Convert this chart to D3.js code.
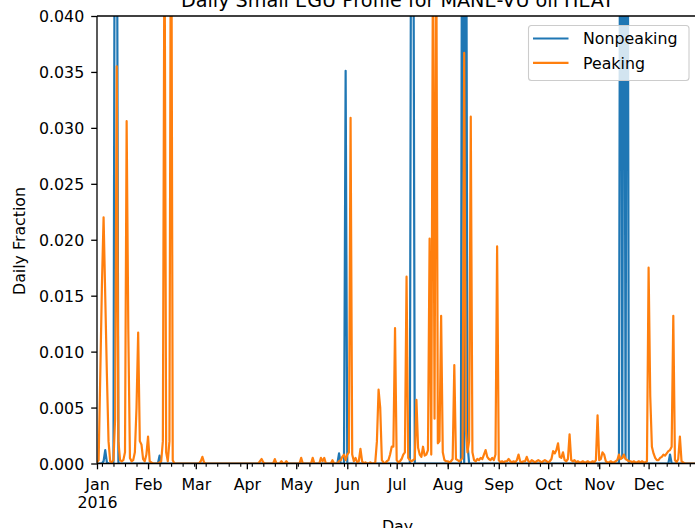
<!DOCTYPE html>
<html><head><meta charset="utf-8">
<script src="https://cdn.jsdelivr.net/npm/d3@7"></script>
<style>
body{margin:0;background:#fff}
svg{display:block}
text{font-family:"DejaVu Sans",sans-serif;fill:#000}
</style>
</head><body>
<svg id="c" width="695" height="528"></svg>
<script>
// ---------------- data ----------------
const chartTitle = "Daily Small EGU Profile for MANE-VU oil HEAT";
const xLabel = "Day";
const yLabel = "Daily Fraction";
const seriesNames = ["Nonpeaking", "Peaking"];
const seriesColors = ["#1f77b4", "#ff7f0e"];
const startDay = "2016-01-01";
const endDay = "2016-12-31";
const monthTickLabels = ["Jan\n2016","Feb","Mar","Apr","May","Jun","Jul","Aug","Sep","Oct","Nov","Dec"];
const yTickValues = [0, 0.005, 0.010, 0.015, 0.020, 0.025, 0.030, 0.035, 0.040];

// one value per day, Jan 1 .. Dec 31 2016 (rows = months)
const nonpeaking = [
 0,0,0,0,0.0002,0.0012,0.0001,0,0,0, 0,0.07,0.06,0,0,0,0,0,0,0, 0,0,0,0,0,0,0,0,0,0, 0,
 0,0,0,0,0,0,0,0.0007,0,0, 0,0,0,0,0,0,0,0,0,0, 0,0,0,0,0,0,0,0,0,
 0,0,0,0,0,0,0,0,0,0, 0,0,0,0,0,0,0,0,0,0, 0,0,0,0,0,0,0,0,0,0, 0,
 0,0,0,0,0,0,0,0,0,0, 0,0,0,0,0,0,0,0,0,0, 0,0,0,0,0,0,0,0,0,0,
 0,0,0,0,0,0,0,0,0,0, 0,0,0,0,0,0,0,0,0,0, 0,0,0,0,0,0,0.0009,0,0,0, 0.0351,
 0,0,0,0,0,0,0,0,0,0, 0,0,0,0,0,0,0,0,0,0, 0,0,0,0,0,0,0,0,0,0,
 0,0,0,0,0,0,0,0,0,0.07, 0.06,0,0,0,0,0,0,0,0,0, 0,0,0,0,0,0,0,0,0,0, 0,
 0,0,0,0,0,0,0,0,0,0.08, 0,0.07,0.0018,0,0,0,0,0,0,0, 0,0,0,0,0,0,0,0,0,0, 0,
 0,0,0,0,0,0,0,0,0,0, 0,0,0,0,0,0,0,0,0,0, 0,0,0,0,0,0,0,0,0,0,
 0,0,0,0,0,0,0,0,0,0, 0,0,0,0,0,0,0,0,0,0, 0,0,0,0,0,0,0,0,0,0, 0,
 0,0,0,0,0,0,0,0,0,0, 0,0,0,0.08,0.0005,0.08,0.0005,0.08,0,0, 0,0,0,0,0,0,0,0,0,0,
 0,0,0,0,0,0,0,0,0,0, 0,0,0,0.0008,0,0,0,0,0,0, 0,0,0,0,0,0,0,0,0,0, 0
];
const peaking = [
 0.0001,0.0003,0.008,0.016,0.022,0.015,0.008,0.002,0.0002,0.0001, 0.0003,0.004,0.0355,0.002,0.0003,0.0002,0.0003,0.001,0.0306,0.012, 0.0005,0.0002,0.0003,0.001,0.005,0.0117,0.002,0.0017,0.0004,0.0002, 0.0008,
 0.0024,0.0002,0.0001,0,0,0,0,0.0001,0.0002,0.002, 0.05,0.001,0.0002,0.002,0.06,0.0003,0,0,0,0, 0,0,0,0,0,0,0,0,0,
 0,0,0,0.0002,0.0006,0.0001,0,0,0,0, 0,0,0,0,0,0,0,0,0,0, 0,0,0,0,0,0,0,0,0,0, 0,
 0,0,0,0,0,0,0,0,0.0002,0.0004, 0.0001,0,0,0,0,0,0,0.0004,0,0, 0,0.0002,0,0,0.0002,0,0,0,0,0,
 0,0,0,0.0005,0,0,0,0,0,0, 0.0005,0,0,0,0,0.0005,0.0002,0.0005,0,0, 0,0,0.0003,0,0,0,0.0002,0.0003,0.0006,0.0008, 0.0003,
 0.0008,0.001,0.0309,0.0008,0.0002,0.0005,0.0001,0.0002,0.0013,0.0002, 0,0.0001,0,0,0.0001,0,0,0.0001,0.002,0.0066, 0.005,0.0003,0.0001,0,0.0002,0.0003,0.0008,0.0015,0.0015,0.0121,
 0.0003,0.0001,0.0002,0.0004,0.0008,0.001,0.0167,0.0005,0.0003,0.0002, 0.0003,0.0004,0.0057,0.0014,0.0008,0.0006,0.0015,0.0007,0.0008,0.0012, 0.0201,0.0008,0.045,0.004,0.05,0.0018,0.002,0.0132,0.001,0.0003, 0.0002,
 0.0002,0.0001,0.0002,0.0004,0.0088,0.0004,0.0003,0.0002,0.0003,0.0005, 0.0367,0.003,0.001,0.002,0.031,0.001,0.0003,0.0002,0.0004,0.0003, 0.0005,0.0004,0.0008,0.0012,0.0006,0.0004,0.0003,0.0005,0.0003,0.0008, 0.0194,
 0.0003,0.0001,0.0002,0.0001,0.0002,0.0002,0.0004,0.0002,0.0001,0.0002, 0.0001,0.0003,0.0008,0.0002,0.0001,0.0002,0.0002,0.0006,0.0002,0.0001, 0.0003,0.0002,0.0001,0.0002,0.0003,0.0002,0.0001,0.0002,0.0003,0.0002,
 0.0001,0.0002,0.0004,0.0011,0.0009,0.0012,0.0018,0.0006,0.0005,0.001, 0.0003,0.0002,0.0004,0.0026,0.0003,0.0002,0.0003,0.0001,0.0002,0.0001, 0.0001,0.0002,0.0001,0.0001,0.0002,0.0001,0.0001,0.0002,0.0001,0.0003, 0.0043,
 0.0003,0.0004,0.001,0.0008,0.0002,0.0001,0.0001,0.0002,0.0001,0.0001, 0.0002,0.0003,0.0008,0.0004,0.0005,0.0008,0.0004,0.0003,0.0002,0.0002, 0.0001,0.0002,0.0001,0.0001,0.0002,0.0001,0.0002,0.0001,0.0001,0.0002,
 0.0175,0.006,0.0015,0.0009,0.0005,0.0003,0.0003,0.0005,0.0006,0.0008, 0.0007,0.0009,0.0011,0.0012,0.0015,0.0132,0.0003,0.0001,0.0004,0.0024, 0.0002,0.0001,0,0,0,0,0,0,0,0, 0
];

// ---------------- layout ----------------
const L = 97, R = 698, T = 16, B = 463.5;
const FS = 15.8;
const svg = d3.select("#c");

const t0 = new Date(startDay + "T00:00:00Z");
const t1 = new Date(endDay + "T00:00:00Z");
const days = d3.utcDay.range(t0, d3.utcDay.offset(t1, 1));

const x = d3.scaleUtc().domain([t0, t1]).range([L, R]);
const y = d3.scaleLinear().domain([0, 0.04]).range([B, T]);

svg.append("defs").append("clipPath").attr("id", "clip")
  .append("rect").attr("x", L).attr("y", T).attr("width", R - L).attr("height", B - T);

// lines
const series = [nonpeaking, peaking];
const line = d3.line().x((d, i) => x(days[i])).y(d => y(d));
const gLines = svg.append("g").attr("clip-path", "url(#clip)");
series.forEach((s, k) => {
  gLines.append("path").datum(s)
    .attr("d", line)
    .attr("fill", "none")
    .attr("stroke", seriesColors[k])
    .attr("stroke-width", 2.2)
    .attr("stroke-linejoin", "round");
});

// minor ticks (weekly, Mondays)
const minorTicks = d3.utcMonday.range(t0, d3.utcDay.offset(t1, 1));
svg.append("g").attr("transform", `translate(0,${B})`)
  .call(d3.axisBottom(x).tickValues(minorTicks).tickSize(3.3).tickFormat(""))
  .call(g => g.select(".domain").remove())
  .call(g => g.selectAll("line").attr("stroke-width", 1.1));

// major x ticks (month starts)
const monthStarts = d3.utcMonth.range(t0, d3.utcDay.offset(t1, 1));
const gx = svg.append("g").attr("transform", `translate(0,${B})`)
  .call(d3.axisBottom(x).tickValues(monthStarts).tickSize(5.8).tickPadding(0)
        .tickFormat((d, i) => monthTickLabels[i]));
gx.select(".domain").remove();
gx.selectAll("line").attr("stroke-width", 1.3);
gx.selectAll("text").each(function(d, i) {
  const lines = monthTickLabels[i].split("\n");
  const t = d3.select(this).text(null)
    .attr("y", 26).attr("dy", null)
    .attr("font-size", FS).attr("font-family", "DejaVu Sans").attr("fill", "#000");
  lines.forEach((ln, j) => t.append("tspan").attr("x", 0).attr("dy", j === 0 ? 0 : 18.8).text(ln));
});

// y axis
const gy = svg.append("g").attr("transform", `translate(${L},0)`)
  .call(d3.axisLeft(y).tickValues(yTickValues).tickSize(5.8).tickPadding(7)
        .tickFormat(d3.format(".3f")));
gy.select(".domain").remove();
gy.selectAll("line").attr("stroke-width", 1.3);
gy.selectAll("text").attr("font-size", FS).attr("font-family", "DejaVu Sans")
  .attr("fill", "#000").attr("dy", "0.36em");

// spines
const sp = svg.append("g").attr("stroke", "#000").attr("stroke-width", 1.3).attr("fill", "none");
sp.append("line").attr("x1", L).attr("x2", L).attr("y1", T).attr("y2", B);
sp.append("line").attr("x1", L).attr("x2", R).attr("y1", B).attr("y2", B);
sp.append("line").attr("x1", L).attr("x2", R).attr("y1", T).attr("y2", T);
sp.append("line").attr("x1", R).attr("x2", R).attr("y1", T).attr("y2", B);

// title & labels
svg.append("text").attr("x", (L + R) / 2).attr("y", 6.5).attr("text-anchor", "middle")
  .attr("font-size", 19.2).text(chartTitle);
svg.append("text").attr("x", (L + R) / 2).attr("y", 531.5).attr("text-anchor", "middle")
  .attr("font-size", FS).text(xLabel);
svg.append("text").attr("transform", "translate(24.5,241) rotate(-90)").attr("text-anchor", "middle")
  .attr("font-size", FS).text(yLabel);

// legend
const lg = svg.append("g");
lg.append("rect").attr("x", 528.5).attr("y", 25.5).attr("width", 160.5).attr("height", 55)
  .attr("rx", 3).attr("fill", "#fff").attr("fill-opacity", 0.8)
  .attr("stroke", "#cccccc").attr("stroke-width", 1.1);
seriesNames.forEach((n, k) => {
  const yy = 38.5 + k * 24.3;
  lg.append("line").attr("x1", 533).attr("x2", 568.5).attr("y1", yy).attr("y2", yy)
    .attr("stroke", seriesColors[k]).attr("stroke-width", 2.2);
  lg.append("text").attr("x", 583).attr("y", yy + 5.8).attr("font-size", FS).text(n);
});
</script>
</body></html>
